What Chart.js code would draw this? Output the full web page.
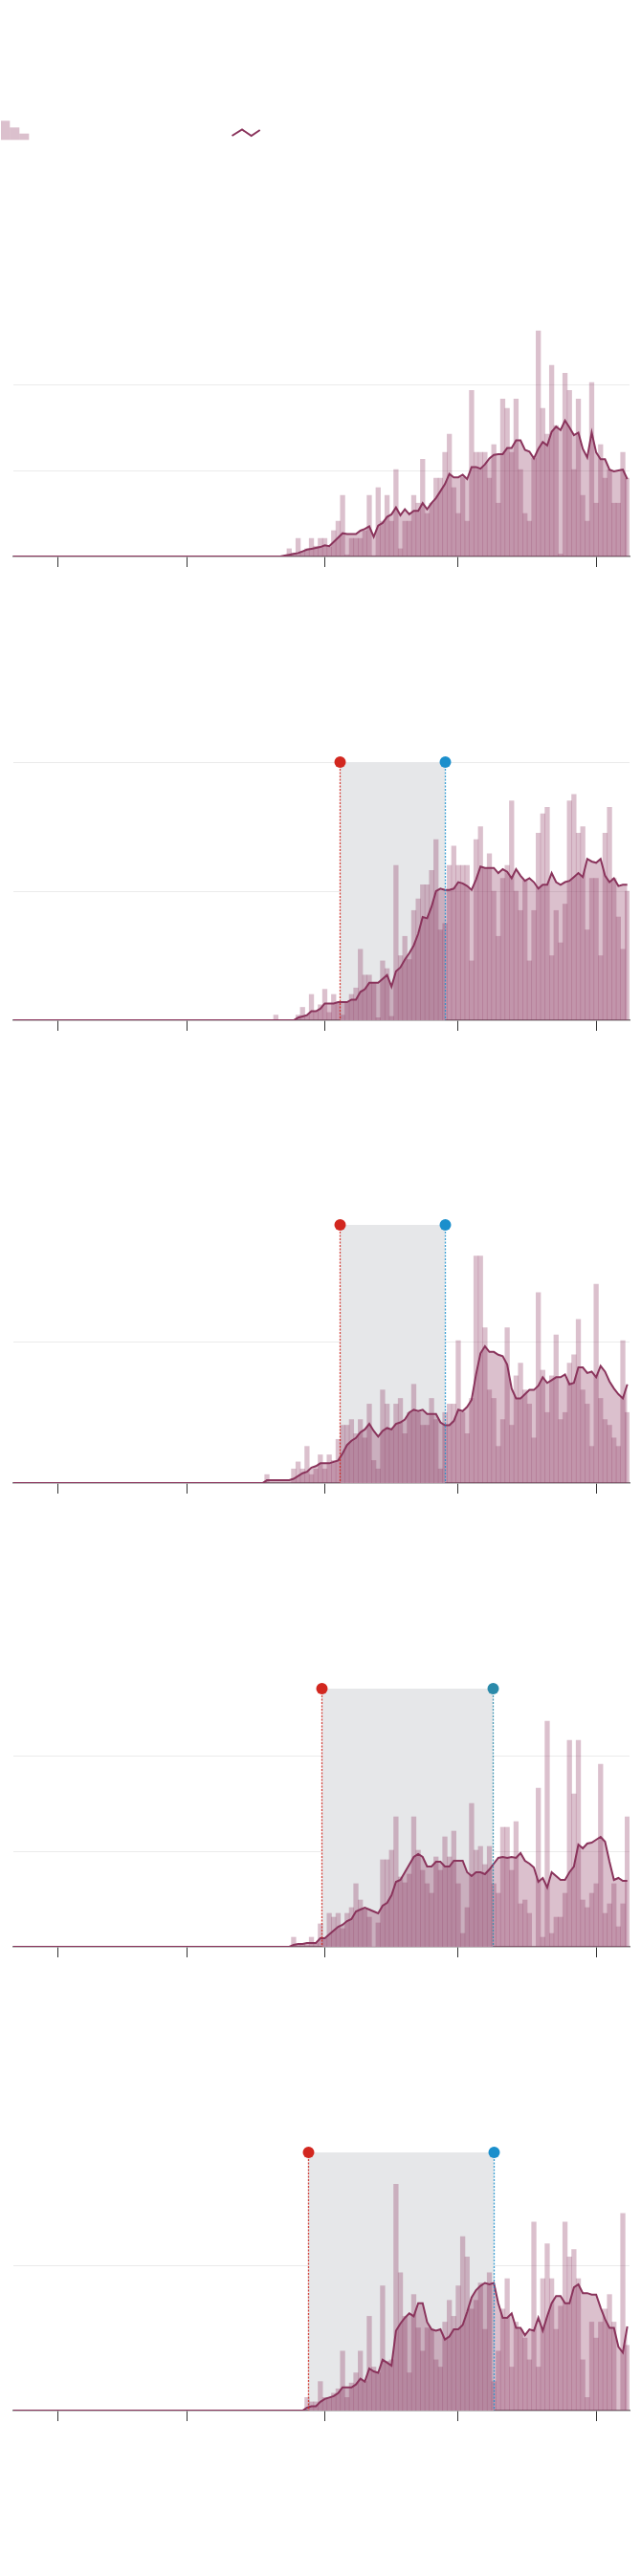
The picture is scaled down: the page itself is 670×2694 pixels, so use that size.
<!DOCTYPE html>
<html>
<head>
<meta charset="utf-8">
<script src="https://cdn.jsdelivr.net/npm/chart.js@4.4.1/dist/chart.umd.min.js"></script>
<style>
  html, body { margin: 0; padding: 0; background: #fff; }
  body { width: 670px; height: 2694px; position: relative; overflow: hidden; }
  canvas.panel { position: absolute; left: 0; }
  #legend { position: absolute; left: 0; top: 120px; }
</style>
</head>
<body>
<svg id="legend" width="290" height="30">
  <rect x="1" y="6.3" width="9.3" height="20" fill="rgba(140,52,94,0.31)"/>
  <rect x="10.3" y="13.3" width="10" height="13" fill="rgba(140,52,94,0.31)"/>
  <rect x="20.3" y="19.7" width="10" height="6.6" fill="rgba(140,52,94,0.31)"/>
  <polyline points="242.5,22 253,15.5 262.7,22 271.7,16" fill="none" stroke="#8a345c" stroke-width="2"/>
</svg>
<canvas id="p1" class="panel" width="670" height="296" style="top:302px"></canvas>
<canvas id="p2" class="panel" width="670" height="296" style="top:787px"></canvas>
<canvas id="p3" class="panel" width="670" height="296" style="top:1271px"></canvas>
<canvas id="p4" class="panel" width="670" height="296" style="top:1756px"></canvas>
<canvas id="p5" class="panel" width="670" height="296" style="top:2241px"></canvas>
<script>
// day 0 = Jan. 22; one value per day through June 8
const monthTicks = [10, 39, 70, 100, 131];   // Feb 1, Mar 1, Apr 1, May 1, Jun 1
const gridSteps = [100, 200];

// panel 1
const p1Daily = [
  0,0,0,0,0,0,0,0,0,0,0,0,0,0,0,0,0,0,0,0,
  0,0,0,0,0,0,0,0,0,0,0,0,0,0,0,0,0,0,0,0,
  0,0,0,0,0,0,0,0,0,0,0,0,0,0,0,0,0,0,0,0,
  0,0,
  9,4,21,6,9,21,12,21,21,11,30,41,71,2,21,21,21,30,71,1,80,41,71,41,101,9,41,41,71,62,113,50,62,91,91,121,142,80,
  50,92,41,193,121,121,121,91,130,62,183,172,121,183,101,50,41,114,262,172,142,222,152,3,213,193,101,183,71,41,202,62,130,91,101,62,62,121,91
];
const p1Avg = [
  0,0,0,0,0,0,0,0,0,0,0,0,0,0,0,0,0,0,0,0,
  0,0,0,0,0,0,0,0,0,0,0,0,0,0,0,0,0,0,0,0,
  0,0,0,0,0,0,0,0,0,0,0,0,0,0,0,0,0,0,0,0,
  0,
  1,2,3,4,6,8,9,10,11,13,12,17,22,27,26,26,26,30,32,35,23,36,39,46,49,57,48,55,49,53,53,62,55,62,68,76,84,96,92,
  92,95,90,104,104,102,107,114,118,119,119,126,126,135,135,124,122,114,125,133,129,145,151,147,158,150,141,144,125,115,144,121,113,113,101,99,100,101,90
];

// panel 2
const p2Daily = [
  0,0,0,0,0,0,0,0,0,0,0,0,0,0,0,0,0,0,0,0,
  0,0,0,0,0,0,0,0,0,0,0,0,0,0,0,0,0,0,0,0,
  0,0,0,0,0,0,0,0,0,0,0,0,0,0,0,0,0,0,0,
  4,0,0,0,0,4,10,4,20,7,12,24,6,20,14,4,14,20,25,55,35,35,29,2,46,40,3,120,50,65,47,85,94,105,105,116,140,70,75,
  120,135,120,120,120,46,140,150,118,129,100,65,110,120,170,100,85,108,46,85,145,160,165,50,85,60,90,170,175,145,150,70,110,110,50,145,165,110,80,55,100
];
const p2Avg = [
  0,0,0,0,0,0,0,0,0,0,0,0,0,0,0,0,0,0,0,0,
  0,0,0,0,0,0,0,0,0,0,0,0,0,0,0,0,0,0,0,0,
  0,0,0,0,0,0,0,0,0,0,0,0,0,0,0,0,0,0,0,0,
  0,0,0,0,
  2,3,4,7,7,9,13,13,13,14,14,14,16,16,22,24,29,29,29,32,35,26,38,41,47,52,58,67,80,79,88,100,102,101,
  101,102,107,106,104,101,109,119,118,118,118,114,117,115,110,117,112,108,110,107,102,105,105,114,107,105,107,108,111,114,111,125,123,122,125,112,107,110,104,105,105
];

// panel 3
const p3Daily = [
  0,0,0,0,0,0,0,0,0,0,0,0,0,0,0,0,0,0,0,0,
  0,0,0,0,0,0,0,0,0,0,0,0,0,0,0,0,0,0,0,0,
  0,0,0,0,0,0,0,0,0,0,0,0,0,0,0,0,0,
  6,0,0,0,0,0,
  10,15,10,26,6,10,20,10,20,16,31,41,41,45,35,45,32,56,16,10,66,56,38,56,60,35,50,70,50,41,41,60,45,10,50,56,56,
  101,50,35,60,161,161,110,66,60,26,45,110,41,76,85,66,56,32,135,80,50,76,105,45,50,85,91,116,66,56,26,141,60,45,41,32,26,101,50
];
const p3Avg = [
  0,0,0,0,0,0,0,0,0,0,0,0,0,0,0,0,0,0,0,0,
  0,0,0,0,0,0,0,0,0,0,0,0,0,0,0,0,0,0,0,0,
  0,0,0,0,0,0,0,0,0,0,0,0,0,0,0,0,0,
  2,2,2,2,2,2,
  3,5,7,8,11,12,14,14,14,15,16,21,27,30,32,36,38,42,37,33,37,39,38,42,43,45,50,52,51,52,49,49,49,43,41,41,44,
  52,51,54,59,77,92,97,93,93,91,90,84,67,60,60,63,66,66,69,75,71,73,75,75,77,70,71,82,82,78,79,75,83,79,72,67,63,60,70
];

// panel 4
const p4Daily = [
  0,0,0,0,0,0,0,0,0,0,0,0,0,0,0,0,0,0,0,0,
  0,0,0,0,0,0,0,0,0,0,0,0,0,0,0,0,0,0,0,0,
  0,0,0,0,0,0,0,0,0,0,0,0,0,0,0,0,0,0,0,0,
  0,0,0,
  10,2,3,2,10,4,24,9,35,31,35,19,35,41,66,49,39,31,0,25,91,91,101,136,73,67,76,136,101,80,66,56,94,80,115,94,121,
  66,14,41,150,101,105,86,105,66,56,125,125,80,131,45,49,35,0,166,10,236,14,31,31,56,216,160,216,49,41,56,66,191,35,45,66,21,45,136
];
const p4Avg = [
  0,0,0,0,0,0,0,0,0,0,0,0,0,0,0,0,0,0,0,0,
  0,0,0,0,0,0,0,0,0,0,0,0,0,0,0,0,0,0,0,0,
  0,0,0,0,0,0,0,0,0,0,0,0,0,0,0,0,0,0,0,0,
  0,0,0,
  2,3,3,4,4,4,9,9,13,17,21,23,27,29,37,39,41,39,37,35,43,46,54,68,70,78,86,94,97,94,84,84,89,89,84,84,90,
  90,90,78,74,78,78,76,81,87,93,94,93,94,93,98,90,87,83,68,72,62,78,74,70,70,78,84,107,103,108,109,112,115,110,89,70,72,69,69
];

// panel 5
const p5Daily = [
  0,0,0,0,0,0,0,0,0,0,0,0,0,0,0,0,0,0,0,0,
  0,0,0,0,0,0,0,0,0,0,0,0,0,0,0,0,0,0,0,0,
  0,0,0,0,0,0,0,0,0,0,0,0,0,0,0,0,0,0,0,0,
  0,0,0,0,0,0,
  9,6,6,20,9,9,12,15,41,9,19,26,41,20,65,30,26,86,34,35,156,95,65,26,80,57,41,57,56,35,30,61,76,65,
  86,120,106,70,76,88,56,95,20,41,70,91,30,61,56,50,35,130,30,91,115,91,56,72,130,106,111,91,35,9,61,50,61,70,80,61,0,136,45
];
const p5Avg = [
  0,0,0,0,0,0,0,0,0,0,0,0,0,0,0,0,0,0,0,0,
  0,0,0,0,0,0,0,0,0,0,0,0,0,0,0,0,0,0,0,0,
  0,0,0,0,0,0,0,0,0,0,0,0,0,0,0,0,0,0,0,0,
  0,0,0,0,0,0,
  2,3,3,6,8,9,10,12,16,16,16,18,22,20,29,27,26,35,33,31,55,60,64,67,65,74,74,61,56,55,56,49,51,56,
  56,59,68,78,83,86,88,87,88,74,64,64,67,57,57,52,56,55,64,55,65,74,79,79,74,74,85,87,81,81,80,80,71,63,57,57,44,40,58
];

// axis tops and stay-at-home order start / end (in days)
const yMaxes = [300, 200, 183, 270, 178];
const orderStarts = [null, 73.4, 73.4, 69.3, 66.2];
const orderEnds = [null, 97.0, 97.0, 107.8, 108.0];
const endColors = [null, '#1b8fcc', '#1b8fcc', '#2b8aaa', '#1b8fcc'];

const FILL = 'rgba(140,52,94,0.31)';
const LINE = '#8a345c';
const START_COLOR = '#d2271f';

const orderBand = {
  id: 'orderBand',
  beforeDatasetsDraw(chart, args, opts) {
    if (opts.start == null) return;
    const { ctx, chartArea: { top, bottom }, scales: { x } } = chart;
    const x0 = x.getPixelForValue(opts.start);
    const x1 = x.getPixelForValue(opts.end);
    ctx.save();
    ctx.fillStyle = '#e6e7e9';
    ctx.fillRect(x0, top, x1 - x0, bottom - top);
    ctx.restore();
  },
  afterDatasetsDraw(chart, args, opts) {
    if (opts.start == null) return;
    const { ctx, chartArea: { top, bottom }, scales: { x } } = chart;
    [[opts.start, START_COLOR], [opts.end, opts.endColor]].forEach(([day, color]) => {
      const px = Math.round(x.getPixelForValue(day)) + 0.5;
      ctx.save();
      ctx.strokeStyle = color;
      ctx.globalAlpha = 0.85;
      ctx.lineWidth = 1.3;
      ctx.setLineDash([2, 1.5]);
      ctx.beginPath();
      ctx.moveTo(px, top);
      ctx.lineTo(px, bottom);
      ctx.stroke();
      ctx.globalAlpha = 1;
      ctx.setLineDash([]);
      ctx.fillStyle = color;
      ctx.beginPath();
      ctx.arc(px, top, 6, 0, Math.PI * 2);
      ctx.fill();
      ctx.restore();
    });
  }
};

function drawPanel(id, daily, avg, i) {
  const ctx = document.getElementById(id).getContext('2d');
  return new Chart(ctx, {
    type: 'bar',
    data: {
      datasets: [
        {
          type: 'line',
          data: avg.map((v, d) => ({ x: d, y: v })),
          borderColor: LINE,
          borderWidth: 2,
          backgroundColor: FILL,
          fill: 'origin',
          pointRadius: 0,
          tension: 0,
          order: 1
        },
        {
          type: 'bar',
          data: daily.map((v, d) => ({ x: d, y: v })),
          backgroundColor: FILL,
          borderWidth: 0,
          barPercentage: 1,
          categoryPercentage: 1,
          order: 2
        }
      ]
    },
    options: {
      responsive: false,
      animation: false,
      devicePixelRatio: 1,
      layout: { padding: { top: 10, bottom: 5, left: 14, right: 12 } },
      plugins: {
        legend: { display: false },
        tooltip: { enabled: false },
        orderBand: { start: orderStarts[i], end: orderEnds[i], endColor: endColors[i] }
      },
      scales: {
        x: {
          type: 'linear',
          min: 0,
          max: 138.5,
          offset: false,
          afterBuildTicks: s => { s.ticks = monthTicks.map(v => ({ value: v })); },
          ticks: { display: false },
          grid: { offset: false, drawOnChartArea: false, drawTicks: true, tickLength: 11, color: '#333', lineWidth: 1 },
          border: { display: true, color: '#7f7f7f', width: 1.5 }
        },
        y: {
          min: 0,
          max: yMaxes[i],
          z: 1,
          afterBuildTicks: s => { s.ticks = gridSteps.map(v => ({ value: v })); },
          ticks: { display: false },
          grid: { color: '#ebebeb', lineWidth: 1, drawTicks: false },
          border: { display: false }
        }
      }
    },
    plugins: [orderBand]
  });
}

drawPanel('p1', p1Daily, p1Avg, 0);
drawPanel('p2', p2Daily, p2Avg, 1);
drawPanel('p3', p3Daily, p3Avg, 2);
drawPanel('p4', p4Daily, p4Avg, 3);
drawPanel('p5', p5Daily, p5Avg, 4);
</script>
</body>
</html>
